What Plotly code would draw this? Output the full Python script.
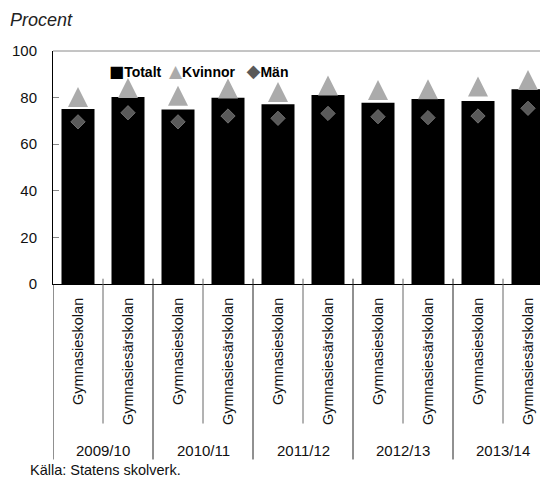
import plotly.graph_objects as go

years = ["2009/10", "2010/11", "2011/12", "2012/13", "2013/14"]
schools = ["Gymnasieskolan", "Gymnasiesärskolan"]
totalt = [75.1, 80.3, 74.9, 79.9, 77.1, 81.1, 77.8, 79.4, 78.5, 83.6]
kvinnor = [80.3, 84.1, 80.8, 83.9, 82.4, 85.2, 83.3, 83.6, 84.8, 87.6]
man = [69.6, 73.5, 69.6, 72.1, 71.1, 73.2, 71.8, 71.4, 72.1, 75.4]
y_ticks = [0, 20, 40, 60, 80, 100]

# page body adds an 8px margin; layout is laid out in target-pixel terms minus that offset
OFF = 8
W, H = 548 - OFF, 481 - OFF
PLOT_L, PLOT_T, PLOT_B, PLOT_R = 53, 51, 284.3, 548  # target pixels
ML = PLOT_L - OFF
MT = PLOT_T - OFF
MB = H - (PLOT_B - OFF)
MR = W - (PLOT_R - OFF)
PH = PLOT_B - PLOT_T
PW = PLOT_R - PLOT_L

def py(p):  # target pixel y -> paper y
    return (PLOT_B - p) / PH

def px(p):  # target pixel x -> paper x
    return (p - PLOT_L) / PW

FONT = "Liberation Sans, Arial, sans-serif"
TRI_COLOR = "#ababab"
DIA_COLOR = "#5a5a5a"

labels = [s for y in years for s in schools]
xs = list(range(len(labels)))

fig = go.Figure()
fig.add_trace(go.Bar(x=xs, y=totalt, name="Totalt", marker=dict(color="black", line=dict(width=0)),
                     width=0.66, showlegend=False))
fig.add_trace(go.Scatter(x=xs, y=kvinnor, name="Kvinnor", mode="markers",
                         marker=dict(symbol="arrow-down", angle=180, standoff=10, size=20,
                                     color=TRI_COLOR, line=dict(width=0)),
                         showlegend=False, cliponaxis=False))
fig.add_trace(go.Scatter(x=xs, y=man, name="Män", mode="markers",
                         marker=dict(symbol="diamond", size=11, color=DIA_COLOR,
                                     line=dict(width=1, color="#707070")),
                         showlegend=False, cliponaxis=False))

shapes = []
n = len(labels)
for b in range(n + 1):
    major = (b % len(schools) == 0)
    shapes.append(dict(type="line", xref="x", yref="paper", x0=b - 0.5, x1=b - 0.5,
                       y0=py(279) if b > 0 else 0, y1=py(460) if major else py(424),
                       line=dict(color="#222222" if major else "#666666", width=1)))
# top border
shapes.append(dict(type="line", xref="paper", yref="paper", x0=0, x1=1, y0=1, y1=1,
                   line=dict(color="#8a8a8a", width=1)))

annotations = []
for gi, yr in enumerate(years):
    annotations.append(dict(x=gi * len(schools) + (len(schools) - 1) / 2, y=py(451), xref="x", yref="paper",
                            text=yr, showarrow=False, font=dict(family=FONT, size=15, color="#111111"),
                            xanchor="center", yanchor="middle"))
annotations.append(dict(x=px(29 - 1), y=py(471), xref="paper", yref="paper", text="Källa: Statens skolverk.",
                        showarrow=False, font=dict(family=FONT, size=14.5, color="#111111"),
                        xanchor="left", yanchor="middle"))
annotations.append(dict(x=px(9 - 1), y=py(19.5), xref="paper", yref="paper", text="<i>Procent</i>",
                        showarrow=False, font=dict(family=FONT, size=18, color="#222222"),
                        xanchor="left", yanchor="middle"))
sym = "<span style='font-family:DejaVu Sans;font-size:{s}px;color:{c}'>{g}</span>"
legend_text = ("<b>" + sym.format(s=16, c="black", g="■") + "Totalt&nbsp;&nbsp;"
               + sym.format(s=17, c=TRI_COLOR, g="▲") + "Kvinnor&nbsp;&nbsp;&nbsp;"
               + sym.format(s=18, c=DIA_COLOR, g="◆") + "Män</b>")
annotations.append(dict(x=px(107), y=py(71), xref="paper", yref="paper",
                        text=legend_text,
                        showarrow=False, font=dict(family=FONT, size=14, color="black"),
                        xanchor="left", yanchor="middle"))

fig.update_layout(
    width=W, height=H,
    margin=dict(l=ML, r=MR, t=MT, b=MB, pad=0),
    paper_bgcolor="white", plot_bgcolor="white",
    showlegend=False,
    shapes=shapes, annotations=annotations,
    font=dict(family=FONT, size=15, color="#111111"),
)
fig.update_xaxes(range=[-0.5, n - 0.6], tickmode="array", tickvals=xs, ticktext=labels,
                 tickangle=-90, ticks="", showline=True, linecolor="black", linewidth=1,
                 showgrid=False, zeroline=False, tickfont=dict(family=FONT, size=14.5, color="#111111"),
                 ticklabelstandoff=7)
fig.update_yaxes(range=[0, 100], tickmode="array", tickvals=y_ticks, ticks="inside", ticklen=6,
                 tickcolor="#888888", showline=True, linecolor="black", linewidth=1,
                 showgrid=False, zeroline=False, tickfont=dict(family=FONT, size=15, color="#111111"),
                 ticklabelstandoff=12)

fig.write_html("out.html")
